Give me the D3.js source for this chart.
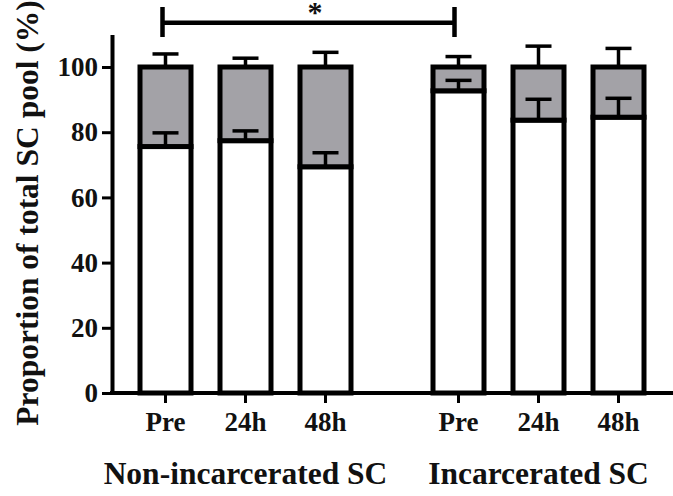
<!DOCTYPE html>
<html>
<head>
<meta charset="utf-8">
<script src="https://cdn.jsdelivr.net/npm/d3@7"></script>
<style>
    html, body { margin: 0; padding: 0; background: #fff; }
    svg { display: block; }
    text { font-family: "Liberation Serif", "Times New Roman", serif; font-weight: bold; fill: #111; }
</style>
</head>
<body>
<div id="chart"></div>
<script>
(function stackedBarChart() {
    'use strict';

    /* data */

    var groups = ['Non-incarcerated SC', 'Incarcerated SC'];
    var timepoints = ['Pre', '24h', '48h'];
    // white (lower) segment, one value per group x timepoint
    var whiteMean = [[75.6, 77.4, 69.4], [92.7, 83.7, 84.6]];
    var whiteErr = [[4.2, 3.0, 4.3], [3.2, 6.4, 5.8]];
    // gray (upper) segment error, drawn above 100
    var grayErr = [[4.0, 2.7, 4.5], [3.2, 6.4, 5.7]];
    var yTicks = [0, 20, 40, 60, 80, 100];
    var significance = { from: [0, 0], to: [1, 0], label: '*' };

    /* layout */

    var width = 673, height = 496;
    var y0 = 393, y100 = 67;
    var axisX = 112;
    var barW = 51;
    var capW = 26;

    var svg = d3.select('#chart').append('svg')
        .attr('width', width)
        .attr('height', height)
    ;

    svg.append('rect')
        .attr('width', width)
        .attr('height', height)
        .attr('fill', '#fff')
    ;

    /* scales */

    var y = d3.scaleLinear()
        .domain([0, 100])
        .range([y0, y100])
    ;

    var groupX = d3.scalePoint()
        .domain(groups)
        .range([245.5, 538.5])
    ;

    var innerX = d3.scalePoint()
        .domain(timepoints)
        .range([-80, 80])
    ;

    function xPos(gi, ti) {
        return groupX(groups[gi]) + innerX(timepoints[ti]);
    }

    // flatten to one record per bar
    var bars = [];
    groups.forEach(function (g, gi) {
        timepoints.forEach(function (t, ti) {
            bars.push({
                gi: gi, ti: ti, label: t,
                white: whiteMean[gi][ti],
                wErr: whiteErr[gi][ti],
                gErr: grayErr[gi][ti]
            });
        });
    });

    /* bars */

    var bar = svg.append('g').selectAll('g')
        .data(bars)
        .enter()
        .append('g')
    ;

    bar.append('rect') // white segment
        .attr('x', function (d) { return xPos(d.gi, d.ti) - barW / 2; })
        .attr('y', function (d) { return y(d.white); })
        .attr('width', barW)
        .attr('height', function (d) { return y(0) - y(d.white); })
        .attr('fill', '#fff')
        .attr('stroke', '#000')
        .attr('stroke-width', 5)
    ;

    bar.append('rect') // gray segment
        .attr('x', function (d) { return xPos(d.gi, d.ti) - barW / 2; })
        .attr('y', y(100))
        .attr('width', barW)
        .attr('height', function (d) { return y(d.white) - y(100); })
        .attr('fill', '#a3a2a7')
        .attr('stroke', '#000')
        .attr('stroke-width', 5)
    ;

    /* error bars (upward only) */

    function errorBar(sel, base, err) {
        sel.append('line')
            .attr('x1', function (d) { return xPos(d.gi, d.ti); })
            .attr('x2', function (d) { return xPos(d.gi, d.ti); })
            .attr('y1', function (d) { return y(base(d)); })
            .attr('y2', function (d) { return y(base(d) + err(d)); })
            .attr('stroke', '#000')
            .attr('stroke-width', 3.5)
        ;
        sel.append('line')
            .attr('x1', function (d) { return xPos(d.gi, d.ti) - capW / 2; })
            .attr('x2', function (d) { return xPos(d.gi, d.ti) + capW / 2; })
            .attr('y1', function (d) { return y(base(d) + err(d)); })
            .attr('y2', function (d) { return y(base(d) + err(d)); })
            .attr('stroke', '#000')
            .attr('stroke-width', 3.5)
        ;
    }

    errorBar(bar, function (d) { return d.white; }, function (d) { return d.wErr; });
    errorBar(bar, function () { return 100; }, function (d) { return d.gErr; });

    /* y axis */

    var yAxis = svg.append('g')
        .attr('transform', 'translate(' + axisX + ',0)')
        .call(d3.axisLeft(y.copy().domain([0, 110]).range([y0, y0 - 110 * (y0 - y100) / 100]))
            .tickValues(yTicks)
            .tickSize(10)
            .tickPadding(4)
            .tickSizeOuter(0))
    ;
    yAxis.select('.domain').attr('stroke-width', 4);
    yAxis.selectAll('.tick line').attr('stroke-width', 3);
    yAxis.selectAll('.tick text')
        .attr('font-size', 27)
        .attr('font-family', '"Liberation Serif", serif')
        .attr('font-weight', 'bold')
        .attr('fill', '#111')
    ;

    /* x axis */

    svg.append('line')
        .attr('x1', axisX - 2)
        .attr('x2', width)
        .attr('y1', y0)
        .attr('y2', y0)
        .attr('stroke', '#000')
        .attr('stroke-width', 4)
    ;

    svg.append('g').selectAll('line')
        .data(bars)
        .enter()
        .append('line')
        .attr('x1', function (d) { return xPos(d.gi, d.ti); })
        .attr('x2', function (d) { return xPos(d.gi, d.ti); })
        .attr('y1', y0)
        .attr('y2', y0 + 10)
        .attr('stroke', '#000')
        .attr('stroke-width', 3)
    ;

    svg.append('g').selectAll('text')
        .data(bars)
        .enter()
        .append('text')
        .attr('x', function (d) { return xPos(d.gi, d.ti); })
        .attr('y', 431)
        .attr('text-anchor', 'middle')
        .attr('font-size', 27)
        .text(function (d) { return d.label; })
    ;

    svg.append('g').selectAll('text')
        .data(groups)
        .enter()
        .append('text')
        .attr('x', function (g) { return groupX(g); })
        .attr('y', 484)
        .attr('text-anchor', 'middle')
        .attr('font-size', 31.5)
        .text(function (g) { return g; })
    ;

    /* y axis title */

    svg.append('text')
        .attr('transform', 'translate(38,213) rotate(-90)')
        .attr('text-anchor', 'middle')
        .attr('font-size', 31.5)
        .text('Proportion of total SC pool (%)')
    ;

    /* significance bracket */

    var bx1 = xPos(significance.from[0], significance.from[1]) - 3;
    var bx2 = xPos(significance.to[0], significance.to[1]) - 4;
    var by = 22.7;

    svg.append('path')
        .attr('d', 'M' + bx1 + ',' + 7 + 'V' + 37 + 'M' + bx1 + ',' + by + 'H' + bx2 + 'M' + bx2 + ',' + 7 + 'V' + 37)
        .attr('fill', 'none')
        .attr('stroke', '#000')
        .attr('stroke-width', 4.5)
    ;

    svg.append('text')
        .attr('x', 315)
        .attr('y', 22)
        .attr('text-anchor', 'middle')
        .attr('font-size', 30)
        .text(significance.label)
    ;
})();
</script>
</body>
</html>
